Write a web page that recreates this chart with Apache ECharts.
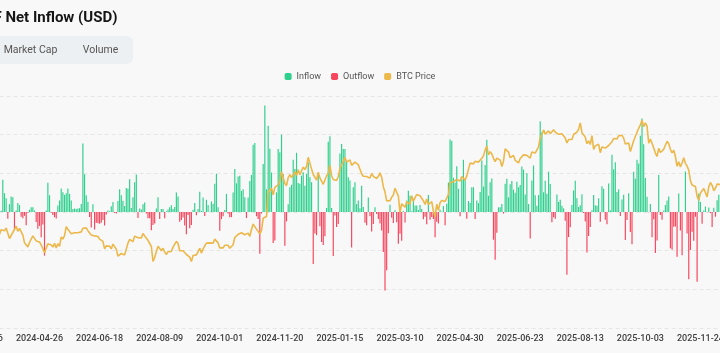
<!DOCTYPE html>
<html>
<head>
<meta charset="utf-8">
<script src="https://cdn.jsdelivr.net/npm/echarts@6.0.0/dist/echarts.min.js"></script>
<style>
html, body { margin: 0; padding: 0; background: #f8f8f8; overflow: hidden; width: 720px; height: 353px; }
#chart { position: absolute; left: -60px; top: 0; width: 840px; height: 353px; }
</style>
</head>
<body>
<div id="chart"></div>
<script>
// US market holidays inside the range (no ETF flows on these days)
var holidays = ['2024-03-29', '2024-05-27', '2024-06-19', '2024-07-04', '2024-09-02', '2024-11-28',
    '2024-12-25', '2025-01-01', '2025-01-09', '2025-01-20', '2025-02-17', '2025-04-18', '2025-05-26',
    '2025-06-19', '2025-07-04', '2025-09-01', '2025-11-27'];
var firstDay = '2024-03-06';
var lastDay = '2025-12-11';

// daily net flow, million USD (one value per trading day, month by month)
var flows2024 = [
    null, null, null, null, null, null, null, null, null, null, null, null, null, 15, 418, 243, 179, // Mar
    -86, 100, 200, 190, -230, 20, 115, 90, -60, -80, -50, -170, -10, 30, 60, 60, 20, -130, -218, -180, -325, -162, // Apr
    -564, 20, 378, 217, -10, -40, -67, -85, 84, 149, 303, 257, 222, 241, 305, 235, 149, 40, 45, 40, 45, 50, // May
    105, 887, 488, 217, 131, -65, -200, 100, -226, -139, -145, -152, -140, -105, -175, -31, 21, 11, 73, // Jun
    129, -13, -20, 143, 295, 216, 147, 78, 310, 301, 422, 53, 190, 384, 486, -78, 44, 31, 100, 124, -18, -80, // Jul
    -80, -237, -168, -148, 45, 192, -89, 40, 39, -81, 11, 33, 62, 88, 39, 65, 252, 202, -127, -105, -71, -175, // Aug
    -288, -38, -211, -169, 28, 117, -43, 39, 263, 13, 187, -53, 158, 92, 4, 136, 106, 365, 494, 61, // Sep
    -242, -92, -55, 25, 235, -18, -67, -67, 253, 555, 371, 458, 470, 273, 294, 192, -79, 188, 402, 479, 870, 893, -55, // Oct
    -90, -541, -20, 621, 1376, 294, 1114, 817, 510, -400, -370, 255, 816, 773, 1000, 490, -438, -122, 100, 320, // Nov
    353, 676, 556, 766, 376, 365, 470, 515, 340, 495, 640, 450, 385, -672, -277, -300, 475, -183, -388, -426, -312 // Dec
];
var flows2025 = [
    53, 908, 978, 52, -568, -45, -195, -155, 755, 880, 815, 815, 645, 450, 407, -458, 320, 385, 105, 149, // Jan
    50, 340, 66, -140, -171, 186, -56, -251, -156, 60, -25, -90, -150, -240, -516, -1014, -754, -276, 94, // Feb
    -75, -143, 22, -134, -409, -280, -371, 13, -135, 149, 274, 209, 11, 165, 83, 84, 26, 89, 40, -93, -60, // Mar
    -157, 220, -100, -64, -90, -326, -127, -150, 30, 2, 76, -171, 107, 381, 936, 917, 442, 380, 591, 300, -56, // Apr
    422, 675, 425, -86, 142, 117, 321, 320, -91, 149, 115, 260, 667, 329, 609, 934, 211, 385, 433, -358, -616, // May
    -268, 60, 60, 105, -20, 365, 430, 190, 360, 400, 290, 250, 390, 320, 350, 589, 548, 226, 501, 102, // Jun
    -342, 407, 601, 217, 80, 218, 1175, 1030, 255, 403, 235, 522, 363, -131, -68, -86, 226, 130, 157, 80, 47, -114, // Jul
    -812, -323, -196, 91, 277, 404, 179, 65, 87, 231, -14, -122, -523, -311, -194, 23, 219, 88, 81, 179, -126, // Aug
    333, 301, -100, -160, 368, 23, 741, 553, 642, 260, 293, -51, 163, 223, -363, -104, 241, -258, -418, 522, 430, // Sep
    676, 627, 985, 1210, 875, 441, 198, -4, 102, -326, -94, -531, -367, 477, -40, -101, 20, 90, 149, 202, -470, -488, -191, // Oct
    -187, -578, 240, -240, -559, 1, 524, -278, -870, -492, -255, -373, -61, -903, 238, 129, -151, 21, 71, // Nov
    -3, 58, -14, -195, 54, -60, 151, 224, null // Dec
];

// BTC close, USD
var price2024 = [
    null, null, null, null, null, null, null, null, null, null, null, null, 67500, 69900, 69900, 69400, 70700, // Mar
    69700, 65500, 66000, 68500, 67800, 71600, 69100, 70600, 70000, 67200, 63400, 63800, 61300, 63500, 63800, 66800, 66400, 64300, 64500, 63800, 63400, 60600, // Apr
    58300, 59100, 62900, 63200, 62300, 61200, 63100, 60800, 62900, 61600, 66300, 65200, 67000, 71400, 70100, 69100, 67900, 68500, 68400, 67600, 68400, 67500, // May
    68800, 70600, 71100, 70800, 69400, 69500, 67300, 68200, 66800, 66000, 66500, 65200, 64900, 64100, 60300, 61800, 60900, 61600, 60300, // Jun
    62700, 62100, 60200, 56700, 56700, 58000, 57800, 57300, 57900, 63200, 65100, 64100, 63900, 66700, 67600, 65900, 65400, 65800, 68000, 66800, 66200, 64600, // Jul
    65400, 61500, 54000, 56000, 55000, 61700, 60900, 59400, 60600, 58700, 57500, 58900, 59500, 59000, 61200, 60400, 64100, 63000, 59400, 59000, 59400, 59000, // Aug
    57500, 58000, 56200, 54000, 57000, 57600, 57300, 58100, 60600, 58200, 60300, 61800, 63200, 63000, 63300, 64300, 63100, 65200, 65800, 63300, // Sep
    60800, 60600, 60800, 62100, 62200, 62100, 60600, 60300, 62400, 66000, 67000, 67600, 67400, 68400, 67400, 67400, 66700, 68200, 66600, 70000, 72700, 72300, 70200, // Oct
    69500, 67800, 69400, 75600, 76000, 76500, 88700, 87900, 90600, 87300, 91100, 90500, 92300, 94300, 98900, 98900, 93000, 91900, 95900, 97500, // Nov
    95900, 96000, 98800, 97000, 99900, 97400, 96700, 101200, 100000, 101500, 106100, 106100, 100200, 97500, 97800, 94700, 98700, 95800, 94200, 92600, 93400 // Dec
];
var price2025 = [
    96900, 98100, 102100, 96900, 95000, 94600, 94500, 96500, 100500, 99900, 104100, 106100, 103700, 104000, 104800, 102100, 101300, 103700, 104700, 102400, // Jan
    101400, 97900, 96600, 96600, 96500, 97400, 95700, 98000, 96600, 97600, 95500, 96600, 98300, 96100, 91400, 88700, 84300, 84700, 84400, // Feb
    86100, 87200, 90600, 89900, 86700, 78500, 82900, 83700, 81100, 83900, 84100, 82700, 86900, 84200, 84000, 87500, 87500, 86900, 87200, 84400, 82500, // Mar
    85200, 82500, 83100, 83900, 79200, 76300, 82600, 79600, 83400, 84500, 83600, 84000, 84900, 87500, 93400, 93700, 93900, 94700, 95000, 94300, 94200, // Apr
    96500, 96900, 94700, 96800, 97000, 103200, 102900, 102800, 104100, 103500, 103700, 103500, 105600, 106800, 109700, 111700, 107300, 108900, 107800, 105600, 103900, // May
    105700, 105900, 104700, 101500, 104300, 110300, 110200, 108700, 105900, 106100, 107000, 104600, 104900, 103300, 105500, 106000, 107300, 106900, 107100, 107100, // Jun
    105700, 108800, 109600, 108200, 108900, 111300, 115900, 117500, 119800, 117700, 118700, 119300, 117900, 117400, 119900, 118700, 118300, 117600, 118100, 117900, 117800, 115800, // Jul
    113300, 115000, 114100, 115000, 117500, 116700, 118700, 120200, 123300, 118400, 117400, 116200, 112900, 114300, 112500, 116900, 110100, 111800, 111200, 112600, 108400, // Aug
    111200, 111700, 110700, 110700, 112000, 111500, 113900, 115500, 116100, 115300, 116800, 116500, 117100, 115700, 112700, 112000, 113300, 109000, 109700, 114400, 114000, // Sep
    118600, 120600, 122300, 124700, 121400, 123300, 121700, 113200, 115200, 113100, 110800, 108200, 106500, 110600, 108500, 107600, 110100, 111000, 114100, 112900, 110100, 108300, 109600, // Oct
    106500, 101600, 103900, 101300, 103400, 105900, 103100, 101700, 99700, 94400, 92200, 92900, 91500, 86600, 84600, 88300, 87300, 90500, 90900, // Nov
    86300, 91300, 93500, 92100, 89400, 90600, 92700, 92000, 92500 // Dec
];

var seriesNames = ['Inflow', 'Outflow', 'BTC Price'];
var greenColor = '#2fd08e';
var redColor = '#f6465d';
var goldColor = '#ecb84a';

function tradingDays(start, end, skip) {
    var out = [];
    var d = new Date(start + 'T00:00:00Z');
    var stop = new Date(end + 'T00:00:00Z');
    while (d <= stop) {
        var wd = d.getUTCDay();
        var s = d.toISOString().slice(0, 10);
        if (wd !== 0 && wd !== 6 && skip.indexOf(s) < 0) out.push(s);
        d.setUTCDate(d.getUTCDate() + 1);
    }
    return out;
}

var dates = tradingDays(firstDay, lastDay, holidays);
var netFlow = flows2024.concat(flows2025);
var btcPrice = price2024.concat(price2025);
if (dates.length !== netFlow.length || dates.length !== btcPrice.length) {
    console.log('length mismatch', dates.length, netFlow.length, btcPrice.length);
}

var inflow = netFlow.map(function (v) { return v != null && v >= 0 ? v : null; });
var outflow = netFlow.map(function (v) { return v != null && v < 0 ? v : null; });

var myChart = echarts.init(document.getElementById('chart'));

option = {
    animation: false,
    backgroundColor: 'transparent',
    textStyle: { fontFamily: 'Roboto' },
    graphic: [
        {
            type: 'text', x: 177.5, y: 18.5,
            style: { text: 'Bitcoin ETF Net Inflow (USD)', font: 'bold 15px Roboto', fill: '#151515', align: 'right', verticalAlign: 'middle' }
        },
        {
            type: 'rect', shape: { x: 0, y: 36, width: 193, height: 28, r: 6 },
            style: { fill: '#edf0f3' }
        },
        {
            type: 'text', x: 90.5, y: 50.5,
            style: { text: 'Market Cap', font: '10.5px Roboto', fill: '#555', align: 'center', verticalAlign: 'middle' }
        },
        {
            type: 'text', x: 160.5, y: 50.5,
            style: { text: 'Volume', font: '10.5px Roboto', fill: '#555', align: 'center', verticalAlign: 'middle' }
        }
    ],
    legend: {
        data: seriesNames,
        top: 67,
        left: 'center',
        icon: 'roundRect',
        itemWidth: 7,
        itemHeight: 7,
        itemGap: 10,
        textStyle: { fontSize: 9, color: '#555' }
    },
    grid: {
        left: 38.6,
        width: 742.7,
        top: 96,
        height: 232,
        containLabel: false,
        outerBoundsMode: 'none'
    },
    xAxis: {
        type: 'category',
        data: dates,
        boundaryGap: true,
        axisLine: { show: false },
        axisTick: { show: false },
        axisLabel: {
            interval: 35,
            fontSize: 9,
            fontWeight: 500,
            color: '#3f3f3f',
            margin: 6
        }
    },
    yAxis: [
        {
            type: 'value',
            min: -1500,
            max: 1500,
            interval: 500,
            axisLabel: { show: false },
            axisLine: { show: false },
            axisTick: { show: false },
            splitLine: { lineStyle: { type: [4, 3], color: '#e6e6e6' } }
        },
        {
            type: 'value',
            min: 20750,
            max: 136750,
            show: false,
            splitLine: { show: false }
        }
    ],
    series: [
        {
            name: 'Inflow',
            type: 'bar',
            stack: 'flow',
            barWidth: '70%',
            data: inflow,
            itemStyle: { color: greenColor }
        },
        {
            name: 'Outflow',
            type: 'bar',
            stack: 'flow',
            barWidth: '70%',
            data: outflow,
            itemStyle: { color: redColor }
        },
        {
            name: 'BTC Price',
            type: 'line',
            yAxisIndex: 1,
            data: btcPrice,
            symbol: 'none',
            lineStyle: { color: goldColor, width: 1.6 },
            itemStyle: { color: goldColor },
            z: 5
        }
    ]
};

myChart.setOption(option);
</script>
</body>
</html>
